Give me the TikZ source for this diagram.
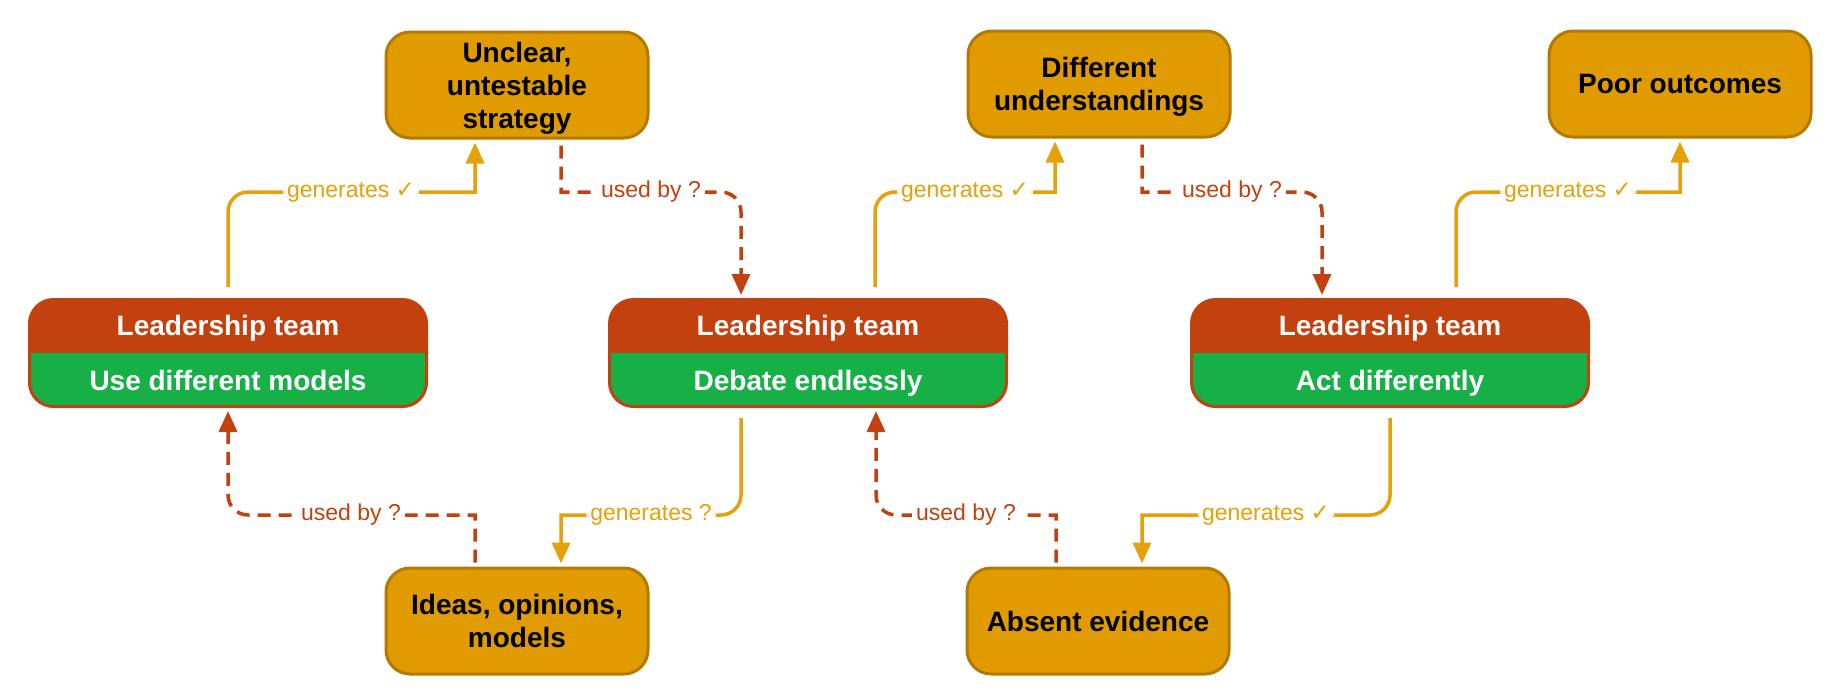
\documentclass[tikz,border=0pt]{standalone}
\usepackage{fontspec}
\setmainfont{Liberation Sans}
\newfontfamily\checkfont{DejaVu Sans}
\usetikzlibrary{positioning, arrows.meta, calc}
\definecolor{amber}{HTML}{E09B00}
\definecolor{amberdark}{HTML}{B47A00}
\definecolor{amberline}{HTML}{E5A00A}
\definecolor{rust}{HTML}{C3410E}
\definecolor{leaf}{HTML}{17B047}

\begin{document}
\begin{tikzpicture}[x=0.5pt, y=-0.5pt,
    outcome/.style={draw=amberdark, fill=amber, line width=1.5pt, rounded corners=12pt,
        minimum width=131pt, minimum height=53pt, inner ysep=2pt, text depth=0pt, align=center,
        font=\fontsize{14}{16.5}\selectfont\bfseries, text=black},
    team/.style={draw=rust, fill=rust, line width=1.5pt, rounded corners=12pt,
        minimum width=198.5pt, minimum height=53.5pt,
        path picture={\fill[leaf, sharp corners] (path picture bounding box.south west) rectangle (path picture bounding box.east);}},
    teamtext/.style={anchor=base, font=\fontsize{14}{16.5}\selectfont\bfseries, text=white},
    gen/.style={draw=amberline, line width=1.75pt, -{Triangle[length=10.5pt, width=9pt]}},
    use/.style={draw=rust, line width=1.75pt, dash pattern=on 6.5pt off 4pt, -{Triangle[length=10.5pt, width=9pt]}},
    genlabel/.style={fill=white, inner sep=2pt, text=amberline, font=\fontsize{11.5}{13}\selectfont},
    uselabel/.style={fill=white, inner sep=2pt, text=rust, font=\fontsize{11.5}{13}\selectfont}]

    \useasboundingbox (0,0) rectangle (1840,696);

    % what the teams produce
    \node[outcome] (strategy) at (517,85) {Unclear,\\untestable\\strategy};
    \node[outcome] (understand) at (1099,84) {Different\\understandings};
    \node[outcome] (outcomes) at (1680,84) {Poor outcomes};
    \node[outcome] (ideas) at (517,621) {Ideas, opinions,\\models};
    \node[outcome] (evidence) at (1098,621) {Absent evidence};

    % the leadership team, three times
    \node[team] (models) at (228,353) {};
    \node[teamtext] (models-head) at ([yshift=9pt]models.center) {Leadership team};
    \node[teamtext] (models-body) at ([yshift=-18.5pt]models.center) {Use different models};

    \node[team] (debate) at (808,353) {};
    \node[teamtext] (debate-head) at ([yshift=9pt]debate.center) {Leadership team};
    \node[teamtext] (debate-body) at ([yshift=-18.5pt]debate.center) {Debate endlessly};

    \node[team] (act) at (1390,353) {};
    \node[teamtext] (act-head) at ([yshift=9pt]act.center) {Leadership team};
    \node[teamtext] (act-body) at ([yshift=-18.5pt]act.center) {Act differently};

    % label points on the two lanes
    \coordinate (gen1) at (351,192);
    \coordinate (use1) at (651,192);
    \coordinate (gen2) at (965,192);
    \coordinate (use2) at (1232,192);
    \coordinate (gen3) at (1568,192);
    \coordinate (use3) at (351,515);
    \coordinate (gen4) at (651,515);
    \coordinate (use4) at (966,515);
    \coordinate (gen5) at (1266,515);

    % upper lane
    \draw[gen] ([yshift=5.5pt]models.north) [rounded corners=10pt] |- (gen1) node[genlabel] {generates {\checkfont ✓}}
        [sharp corners] -| ([xshift=-21pt,yshift=-1.5pt]strategy.south);
    \draw[use] ([xshift=22pt,yshift=-3pt]strategy.south) |- (use1) node[uselabel] {used by ?}
        [rounded corners=10pt] -| ([xshift=-33.5pt,yshift=1.5pt]debate.north);
    \draw[gen] ([xshift=33.5pt,yshift=5.5pt]debate.north) [rounded corners=10pt] |- (gen2) node[genlabel] {generates {\checkfont ✓}}
        [sharp corners] -| ([xshift=-22pt,yshift=-1.5pt]understand.south);
    \draw[use] ([xshift=21.5pt,yshift=-3pt]understand.south) |- (use2) node[uselabel] {used by ?}
        [rounded corners=10pt] -| ([xshift=-34pt,yshift=1.5pt]act.north);
    \draw[gen] ([xshift=33pt,yshift=5.5pt]act.north) [rounded corners=10pt] |- (gen3) node[genlabel] {generates {\checkfont ✓}}
        [sharp corners] -| ([yshift=-1.5pt]outcomes.south);

    % lower lane
    \draw[gen] ([xshift=-33.5pt,yshift=-5pt]debate.south) [rounded corners=10pt] |- (gen4) node[genlabel] {generates ?}
        [sharp corners] -| ([xshift=22pt,yshift=1.5pt]ideas.north);
    \draw[use] ([xshift=-21pt,yshift=2pt]ideas.north) |- (use3) node[uselabel] {used by ?}
        [rounded corners=10pt] -| ([yshift=-1.5pt]models.south);
    \draw[use] ([xshift=-21pt,yshift=2pt]evidence.north) |- (use4) node[uselabel] {used by ?}
        [rounded corners=10pt] -| ([xshift=34pt,yshift=-1.5pt]debate.south);
    \draw[gen] ([yshift=-5pt]act.south) [rounded corners=10pt] |- (gen5) node[genlabel] {generates {\checkfont ✓}}
        [sharp corners] -| ([xshift=22pt,yshift=1.5pt]evidence.north);
\end{tikzpicture}
\end{document}
